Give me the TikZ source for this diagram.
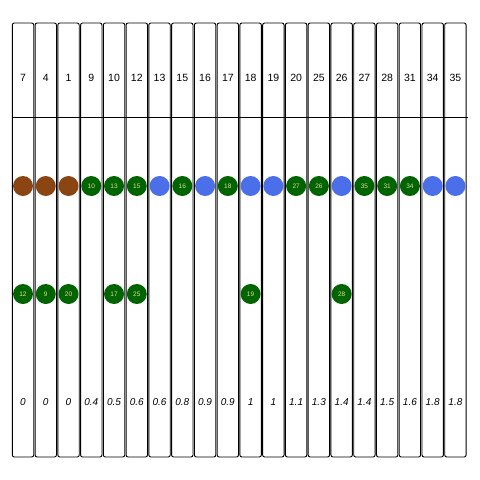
\documentclass[tikz,border=0pt]{standalone}
\usepackage{fontspec}
\setmainfont{Liberation Sans}
\definecolor{brownc}{HTML}{8B4513}
\definecolor{greenc}{HTML}{006400}
\definecolor{bluec}{HTML}{4A6FE8}
\definecolor{txtc}{HTML}{E6DC96}
\begin{document}
\begin{tikzpicture}[x=1pt,y=-1pt,
  colbox/.style={draw=black,line width=0.9pt,rounded corners=2pt,minimum width=21.4pt,minimum height=434pt,inner sep=0pt},
  head/.style={font=\fontsize{10.5}{12}\selectfont,text=black},
  val/.style={font=\fontsize{10}{12}\selectfont\itshape,text=black},
  dot/.style={circle,minimum size=20pt,inner sep=0pt,font=\fontsize{6.5}{7}\selectfont,text=txtc},
  gdot/.style={dot,fill=greenc},
  bdot/.style={dot,fill=bluec},
  rdot/.style={dot,fill=brownc}]
\fill[white] (0,0) rectangle (480,480);
\useasboundingbox (0,0) rectangle (480,480);
\foreach \h [count=\i from 0] in {7,4,1,9,10,12,13,15,16,17,18,19,20,25,26,27,28,31,34,35}{
  \node[colbox] (c\i) at ({23+22.76*\i},240) {};
  \node[head] (h\i) at ({23+22.76*\i},78) {\h};
}
\coordinate (ll) at (12.3,117.5);
\coordinate (lr) at (467.6,117.5);
\draw[line width=0.9pt] (ll) -- (lr);
\foreach \v [count=\i from 0] in {0,0,0,0.4,0.5,0.6,0.6,0.8,0.9,0.9,1,1,1.1,1.3,1.4,1.4,1.5,1.6,1.8,1.8}{
  \node[val] (v\i) at ({23+22.76*\i},402) {\v};
}
\foreach \s/\t [count=\i from 0] in {rdot/,rdot/,rdot/,gdot/10,gdot/13,gdot/15,bdot/,gdot/16,bdot/,gdot/18,bdot/,bdot/,gdot/27,gdot/26,bdot/,gdot/35,gdot/31,gdot/34,bdot/,bdot/}{
  \node[\s] (a\i) at ({23+22.76*\i},186) {\t};
}
\foreach \i/\t in {0/12,1/9,2/20,4/17,5/25,10/19,14/28}{
  \node[gdot] (b\i) at ({23+22.76*\i},294) {\t};
}
\end{tikzpicture}
\end{document}
